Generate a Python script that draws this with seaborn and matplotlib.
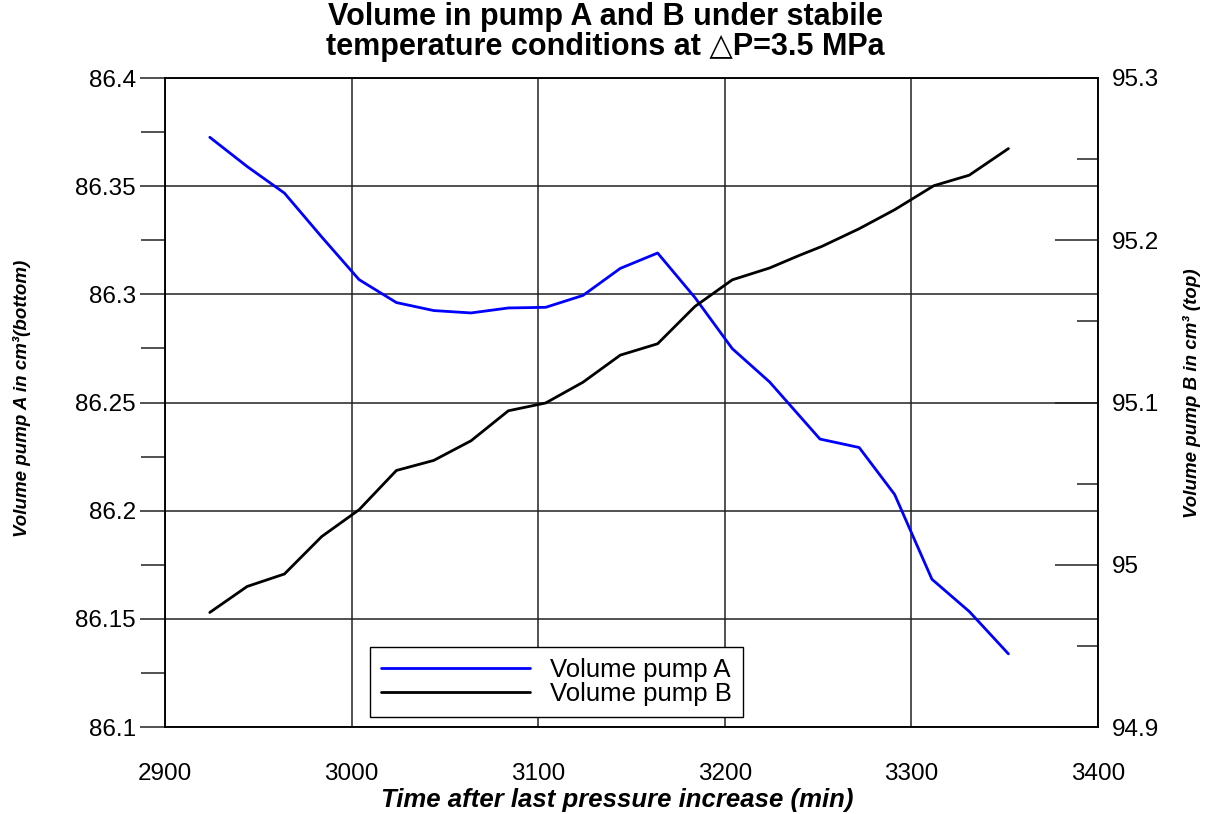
import matplotlib
matplotlib.use("Agg")
import matplotlib.pyplot as plt
import seaborn as sns
import pandas as pd
from matplotlib.ticker import MultipleLocator

# ---- data ----
time_a = [2924, 2944, 2964, 2984, 3004, 3024, 3044, 3064, 3084, 3104, 3124,
          3144, 3164, 3184, 3204, 3224, 3251, 3272, 3291, 3311, 3331, 3352]
vol_a = [86.3726, 86.3591, 86.3468, 86.3265, 86.3068, 86.2962, 86.2925, 86.2914,
         86.2937, 86.2940, 86.2995, 86.3120, 86.3191, 86.2985, 86.2749, 86.2595,
         86.2331, 86.2292, 86.2075, 86.1683, 86.1534, 86.1338]

time_b = [2924, 2944, 2964, 2984, 3004, 3024, 3044, 3064, 3084, 3104, 3124,
          3144, 3164, 3184, 3204, 3224, 3240, 3252, 3272, 3291, 3312, 3331, 3352]
vol_b = [94.9706, 94.9866, 94.9943, 95.0174, 95.0339, 95.0581, 95.0643, 95.0764,
         95.0949, 95.0997, 95.1125, 95.1292, 95.1362, 95.1592, 95.1756, 95.1829,
         95.1907, 95.1962, 95.2071, 95.2188, 95.2336, 95.2401, 95.2565]

label_a = "Volume pump A"
label_b = "Volume pump B"
title = "Volume in pump A and B under stabile\ntemperature conditions at \u25b3P=3.5 MPa"
xlabel = "Time after last pressure increase (min)"
ylabel_left = "Volume pump A in cm\u00b3(bottom)"
ylabel_right = "Volume pump B in cm\u00b3 (top)"

sns.set_style("white")
plt.rcParams['font.family'] = ['Liberation Sans', 'DejaVu Sans']
plt.rcParams['text.color'] = 'black'
plt.rcParams['xtick.color'] = 'black'
plt.rcParams['ytick.color'] = 'black'
plt.rcParams['axes.labelcolor'] = 'black'

fig = plt.figure(figsize=(12.13, 8.14), dpi=100)
ax = fig.add_axes([165/1213, 1-727/814, (1098-165)/1213, (727-78)/814])
ax2 = ax.twinx()

df_a = pd.DataFrame({"t": time_a, "v": vol_a})
df_b = pd.DataFrame({"t": time_b, "v": vol_b})

sns.lineplot(data=df_a, x="t", y="v", ax=ax, color="#0000ff", lw=2, label=label_a, legend=False)
sns.lineplot(data=df_b, x="t", y="v", ax=ax2, color="black", lw=2, label=label_b, legend=False)

ax.set_xlim(2900, 3400)
ax.set_ylim(86.1, 86.4)
ax2.set_ylim(94.9, 95.3)

ax.set_xticks([2900, 3000, 3100, 3200, 3300, 3400])
ax.set_yticks([86.1, 86.15, 86.2, 86.25, 86.3, 86.35, 86.4])
ax.set_yticklabels(["86.1", "86.15", "86.2", "86.25", "86.3", "86.35", "86.4"])
ax.yaxis.set_minor_locator(MultipleLocator(0.025))
ax2.set_yticks([94.9, 95.0, 95.1, 95.2, 95.3])
ax2.set_yticklabels(["94.9", "95", "95.1", "95.2", "95.3"])
ax2.yaxis.set_minor_locator(MultipleLocator(0.05))

ax.grid(True, which="major", color="#222222", lw=1.1)
ax.set_axisbelow(True)

tick_fs = 17.5
ax.tick_params(axis="x", which="both", length=0, pad=26, labelsize=tick_fs)
ax.tick_params(axis="y", which="major", direction="out", length=18, width=1.1,
               pad=3, labelsize=tick_fs, left=True, color="#222222")
ax.tick_params(axis="y", which="minor", direction="out", length=17, width=1.1,
               left=True, color="#222222")
ax2.tick_params(axis="y", which="major", direction="in", length=31, width=1.1,
                pad=10, labelsize=tick_fs, right=True, color="#222222")
ax2.tick_params(axis="y", which="minor", direction="in", length=15, width=1.1,
                right=True, color="#222222")

for a in (ax, ax2):
    for s in a.spines.values():
        s.set_color("black")
        s.set_linewidth(1.1)

ax.set_xlabel("")
ax.set_ylabel("")
ax2.set_ylabel("")

fig.text(617/1213, 1-800/814, xlabel, ha="center", va="center",
         fontsize=18.5, fontweight="bold", fontstyle="italic")
fig.text(22/1213, 1-398/814, ylabel_left, ha="center", va="center", rotation=90,
         fontsize=13.5, fontweight="bold", fontstyle="italic")
fig.text(1192/1213, 1-393/814, ylabel_right, ha="center", va="center", rotation=90,
         fontsize=13.5, fontweight="bold", fontstyle="italic")
fig.text(605/1213, 1-32/814, title, ha="center", va="center", fontsize=22,
         fontweight="bold", linespacing=1.0)

h1, l1 = ax.get_legend_handles_labels()
h2, l2 = ax2.get_legend_handles_labels()
leg = ax2.legend(h1 + h2, l1 + l2, loc="upper left",
                 bbox_to_anchor=((370-165)/933, (727-647)/649),
                 frameon=True, fancybox=False, edgecolor="black",
                 fontsize=18.5, handlelength=5.8, handletextpad=0.8,
                 borderpad=0.42, labelspacing=0.0, borderaxespad=0)
leg.get_frame().set_linewidth(1.0)
leg.get_frame().set_alpha(1)

fig.savefig("out.png", dpi=100)
